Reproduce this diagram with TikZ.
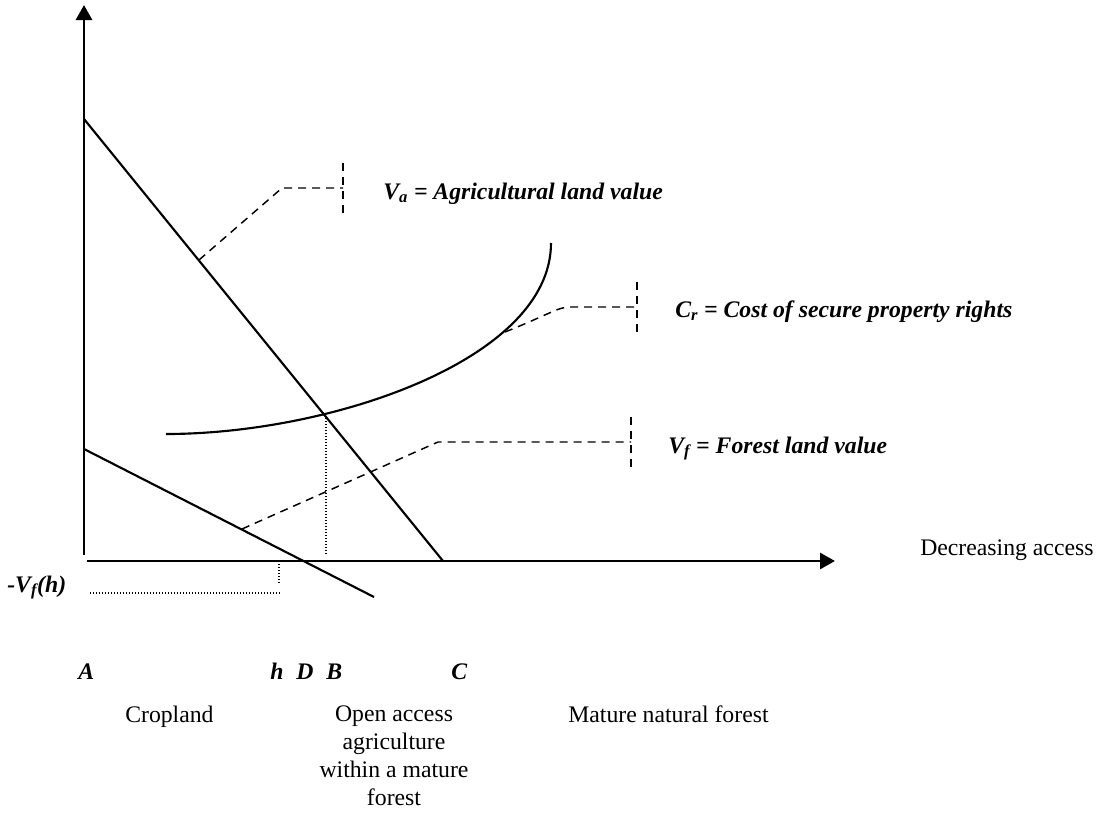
\documentclass[tikz,border=0pt]{standalone}
\usepackage{fontspec}
\setmainfont{Liberation Serif}
\usetikzlibrary{arrows.meta}
\begin{document}
\begin{tikzpicture}[x=0.75pt,y=-0.75pt,
  axis/.style={line width=2.2pt},
  curve/.style={line width=1.6pt},
  leader/.style={line width=1.1pt, dash pattern=on 6pt off 4.5pt},
  guide/.style={line width=0.9pt, dash pattern=on 0.8pt off 1.45pt},
  lab/.style={inner sep=0pt, anchor=base west, font=\fontsize{17.8}{21}\selectfont\bfseries\itshape},
  txt/.style={inner sep=0pt, anchor=base west, font=\fontsize{17.8}{21}\selectfont},
  tip/.style={-{Triangle[length=11.25pt,width=12pt]}}]
\useasboundingbox (0,0) rectangle (1100,814);
% axes
\coordinate (ybot) at (84,555);
\coordinate (ytop) at (84,5);
\coordinate (xleft) at (87,561);
\coordinate (xright) at (835,561);
\draw[axis,tip] (ybot) -- (ytop);
\draw[axis,tip] (xleft) -- (xright);
% lines
\coordinate (vatop) at (84,119);
\coordinate (vaend) at (443,561);
\coordinate (vftop) at (84,449);
\coordinate (vfend) at (374,597);
\coordinate (crstart) at (166,434);
\coordinate (crend) at (551,243);
\draw[curve] (vatop) -- (vaend);
\draw[curve] (vftop) -- (vfend);
\draw[curve] (crstart) .. controls (330,434) and (551,360) .. (crend);
% leaders
\coordinate (la0) at (199,260);
\coordinate (la1) at (282,188);
\coordinate (la2) at (343,188);
\coordinate (lat) at (343,163);
\coordinate (lab) at (343,213);
\draw[leader] (la0) -- (la1) -- (la2);
\draw[leader] (lat) -- (lab);
\coordinate (lc0) at (505,332);
\coordinate (lc1) at (570,307);
\coordinate (lc2) at (637,307);
\coordinate (lct) at (637,282);
\coordinate (lcb) at (637,332);
\draw[leader] (lc0) .. controls (550,314) and (558,307) .. (lc1) -- (lc2);
\draw[leader] (lct) -- (lcb);
\coordinate (lf0) at (242,529);
\coordinate (lf1) at (438,442);
\coordinate (lf2) at (631,442);
\coordinate (lft) at (631,417);
\coordinate (lfb) at (631,467);
\draw[leader] (lf0) -- (lf1) -- (lf2);
\draw[leader] (lft) -- (lfb);
% dotted guides
\coordinate (bt) at (326,418);
\coordinate (bb) at (326,554);
\draw[guide] (bt) -- (bb);
\coordinate (ht) at (279,564);
\coordinate (hb) at (279,583);
\coordinate (hl) at (90,593);
\coordinate (hr) at (280,593);
\draw[guide] (ht) -- (hb);
\draw[guide] (hl) -- (hr);
% labels
\node[lab] (tva) at (383,199) {V\textsubscript{a} = Agricultural land value};
\node[lab] (tcr) at (675,317) {C\textsubscript{r} = Cost of secure property rights};
\node[lab] (tvf) at (668,453) {V\textsubscript{f} = Forest land value};
\node[txt] (tdec) at (920,555) {Decreasing access};
\node[lab] (tvfh) at (7,592) {-V\textsubscript{f}(h)};
\node[lab] (tA) at (78,679) {A};
\node[lab] (th) at (270,679) {h};
\node[lab] (tD) at (296,679) {D};
\node[lab] (tB) at (326,679) {B};
\node[lab] (tC) at (451,679) {C};
\node[txt] (tcrop) at (125,722) {Cropland};
\node[txt, anchor=north, align=center] (topen) at (394,706) {Open access\\agriculture\\within a mature\\forest};
\node[txt] (tmat) at (568,722) {Mature natural forest};
\end{tikzpicture}
\end{document}
